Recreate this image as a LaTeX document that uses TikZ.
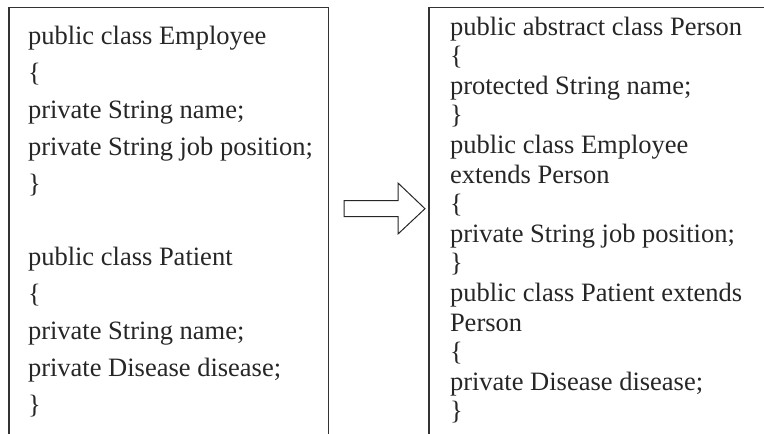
\documentclass[tikz,border=0pt]{standalone}
\usepackage{fontspec}
\setmainfont{Liberation Serif}
\tikzset{
  frame/.style={draw=black!80, line width=1.4pt},
  codeline/.style={anchor=base west, inner sep=0pt, outer sep=0pt,
    font=\fontsize{26.5}{30}\selectfont, text=black!85},
  bigarrow/.style={draw=black!85, line width=1pt, fill=white, line join=miter}
}
\begin{document}
\begin{tikzpicture}[x=1pt, y=-1pt]
\useasboundingbox (0,0) rectangle (764,434);

% left column: two separate classes
\draw[frame] (9,436) -- (9,7.5) -- (328.5,7.5) -- (328.5,436);
\foreach \t [count=\i from 0] in {
  public class Employee, \{, private String name;, private String job position;, \},
  {}, public class Patient, \{, private String name;, private Disease disease;, \}}
  \node[codeline] (left\i) at (28, 44.5+36.9*\i) {\t};

% right column: refactored with a common superclass
\draw[frame] (429,436) -- (429,7.5) -- (770,7.5);
\foreach \t [count=\i from 0] in {
  public abstract class Person, \{, protected String name;, \},
  public class Employee, extends Person, \{, private String job position;, \},
  public class Patient extends, Person, \{, private Disease disease;, \}}
  \node[codeline] (right\i) at (450, 35+29.6*\i) {\t};

% block arrow between the two columns
\coordinate (tail) at (344,208.7);
\coordinate (tip) at (425,208.7);
\draw[bigarrow] (tail) ++(0,-8) -- ++(54,0) -- ++(0,-17.7)
  -- (tip) -- ++(-27,25.3) -- ++(0,-17.3) -- ++(-54,0) -- cycle;
\end{tikzpicture}
\end{document}
